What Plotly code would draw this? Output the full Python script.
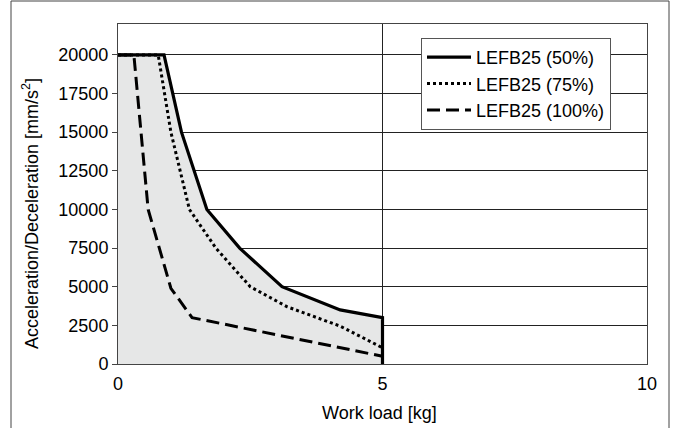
import plotly.graph_objects as go

# Data
x_50 = [0, 0.87, 1.2, 1.68, 2.3, 3.1, 4.2, 5.0, 5.0]
y_50 = [20000, 20000, 15000, 10000, 7500, 5000, 3500, 3000, 0]

x_75 = [0, 0.76, 1.0, 1.35, 1.85, 2.5, 3.2, 4.2, 5.0]
y_75 = [20000, 20000, 15000, 10000, 7500, 5000, 3700, 2450, 1050]

x_100 = [0, 0.3, 0.57, 0.79, 1.0, 1.4, 5.0]
y_100 = [20000, 20000, 10000, 7400, 4900, 3000, 500]

names = ["LEFB25 (50%)", "LEFB25 (75%)", "LEFB25 (100%)"]
x_ticks = [0, 5, 10]
y_ticks = [0, 2500, 5000, 7500, 10000, 12500, 15000, 17500, 20000]

FONT = "Liberation Sans, Arial, Helvetica, sans-serif"
FS = 18

fig = go.Figure()

# shaded area under the 50% curve
fig.add_trace(go.Scatter(
    x=x_50, y=y_50, mode="lines", fill="tozeroy",
    fillcolor="#e6e7e7", line=dict(color="rgba(0,0,0,0)", width=0),
    showlegend=False, hoverinfo="skip"))

fig.add_trace(go.Scatter(x=x_50, y=y_50, mode="lines", name=names[0],
                         line=dict(color="black", width=3.2)))
fig.add_trace(go.Scatter(x=x_75, y=y_75, mode="lines", name=names[1],
                         line=dict(color="black", width=3, dash="3px,3px")))
fig.add_trace(go.Scatter(x=x_100, y=y_100, mode="lines", name=names[2],
                         line=dict(color="black", width=3, dash="13px,6px")))

# plot area: left 118, right 647, top 24, bottom 364 in a 676x428 window
L, R, T, B = 118, 647, 24, 364
W, H = 676, 428
pw, ph = R - L, B - T

def px_x(p):
    return (p - L) / pw

def px_y(p):
    return (B - p) / ph

fig.update_layout(
    width=W, height=H,
    margin=dict(l=L, r=W - R, t=T, b=H - B, pad=0),
    paper_bgcolor="white", plot_bgcolor="white",
    font=dict(family=FONT, size=FS, color="black"),
    showlegend=True,
    legend=dict(
        x=px_x(421), y=px_y(38), xanchor="left", yanchor="top",
        bgcolor="white", bordercolor="#555555", borderwidth=1,
        font=dict(family=FONT, size=FS, color="black"),
        tracegroupgap=0, itemwidth=44,
        entrywidth=195, entrywidthmode="pixels",
    ),
    shapes=[
        dict(type="rect", xref="paper", yref="paper",
             x0=px_x(11), x1=px_x(669), y0=px_y(432), y1=px_y(1),
             line=dict(color="#444444", width=1), fillcolor="rgba(0,0,0,0)",
             layer="below"),
    ],
    annotations=[
        dict(text="Acceleration/Deceleration [mm/s<sup>2</sup>]",
             xref="paper", yref="paper", x=px_x(30), y=px_y(214),
             xanchor="center", yanchor="middle", textangle=-90,
             showarrow=False, font=dict(family=FONT, size=FS, color="black")),
        dict(text="Work load [kg]",
             xref="paper", yref="paper", x=px_x(379), y=px_y(413),
             xanchor="center", yanchor="middle",
             showarrow=False, font=dict(family=FONT, size=FS, color="black")),
    ],
)

fig.update_xaxes(
    range=[0, 10], tickvals=x_ticks, ticktext=[str(v) for v in x_ticks],
    showgrid=True, gridcolor="#222222", gridwidth=1,
    showline=True, linecolor="#444444", linewidth=1, mirror=True,
    ticks="", zeroline=False, ticklabelstandoff=3,
    tickfont=dict(family=FONT, size=FS),
)
fig.update_yaxes(
    range=[0, 22000], tickvals=y_ticks, ticktext=[str(v) for v in y_ticks],
    showgrid=True, gridcolor="#222222", gridwidth=1,
    showline=True, linecolor="#444444", linewidth=1, mirror=True,
    ticks="outside", ticklen=5, tickcolor="#444444",
    zeroline=False,
    tickfont=dict(family=FONT, size=FS),
)

fig.write_html("out.html")
